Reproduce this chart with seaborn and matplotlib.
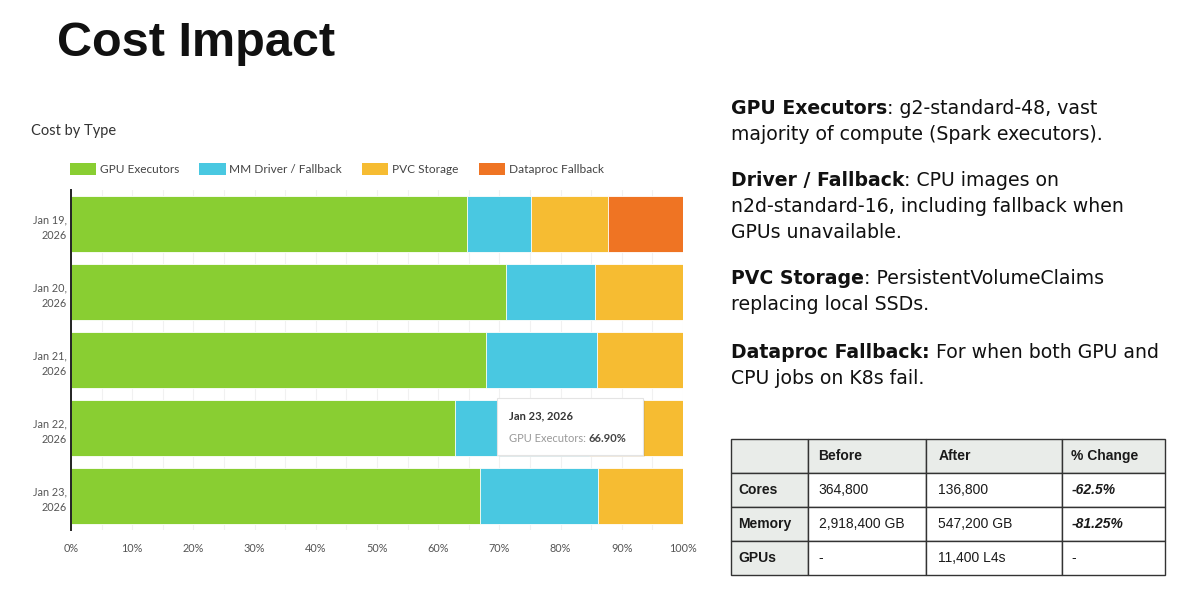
import numpy as np
import pandas as pd
import matplotlib
matplotlib.use("Agg")
import matplotlib.pyplot as plt
from matplotlib.patches import Rectangle
import seaborn as sns

# ===================== data =====================
dates = ["Jan 19,\n2026", "Jan 20,\n2026", "Jan 21,\n2026", "Jan 22,\n2026", "Jan 23,\n2026"]
series_names = ["GPU Executors", "MM Driver / Fallback", "PVC Storage", "Dataproc Fallback"]
gpu_exec = [64.7, 71.1, 67.8, 62.8, 66.9]
mm_driver = [10.4, 14.5, 18.1, 21.8, 19.2]
pvc_storage = [12.7, 14.4, 14.1, 15.4, 13.9]
dataproc = [12.2, 0.0, 0.0, 0.0, 0.0]
x_ticks = list(range(0, 101, 10))

notes = [
    [("GPU Executors", ": g2-standard-48, vast"), ("", "majority of compute (Spark executors).")],
    [("Driver / Fallback", ": CPU images on"), ("", "n2d-standard-16, including fallback when"),
     ("", "GPUs unavailable.")],
    [("PVC Storage", ": PersistentVolumeClaims"), ("", "replacing local SSDs.")],
    [("Dataproc Fallback:", " For when both GPU and"), ("", "CPU jobs on K8s fail.")],
]

table_cols = ["", "Before", "After", "% Change"]
table_rows = [
    ["Cores", "364,800", "136,800", "-62.5%"],
    ["Memory", "2,918,400 GB", "547,200 GB", "-81.25%"],
    ["GPUs", "-", "11,400 L4s", "-"],
]

colors = ["#89ce32", "#49c8e1", "#f6bc32", "#ef7423"]

sns.set_style("white")
plt.rcParams["font.family"] = ["Lato", "DejaVu Sans"]

fig = plt.figure(figsize=(12, 6.02), dpi=100)

# title
fig.text(57 / 1200, 1 - 44 / 602, "Cost Impact", fontsize=35, fontweight="bold",
         family="Liberation Sans", va="center", ha="left", color="#111111")

# ===================== stacked bar chart =====================
ax = fig.add_axes([71 / 1200, 1 - 530 / 602, 612 / 1200, 340 / 602])
df = pd.DataFrame({"date": dates, series_names[0]: gpu_exec, series_names[1]: mm_driver,
                   series_names[2]: pvc_storage, series_names[3]: dataproc})
cum = df[series_names].cumsum(axis=1)
# draw cumulative totals from the back so each segment sits on the previous one
for i in range(len(series_names) - 1, -1, -1):
    sns.barplot(x=cum[series_names[i]], y=df["date"], color=colors[i], orient="h",
                width=0.81, edgecolor="white", linewidth=0.6, errorbar=None,
                saturation=1, ax=ax)

ax.set_xlim(0, 100)
ax.set_xticks(x_ticks)
ax.set_xticklabels([f"{v}%" for v in x_ticks])
ax.set_xticks(np.arange(0, 101, 5), minor=True)
ax.grid(axis="x", which="both", color="#f1f1f1", lw=0.8)
ax.set_axisbelow(True)
ax.set_xlabel("")
ax.set_ylabel("")
for s in ["top", "right", "bottom"]:
    ax.spines[s].set_visible(False)
ax.spines["left"].set_color("#222222")
ax.spines["left"].set_linewidth(1.4)
ax.tick_params(axis="both", which="both", length=0, labelsize=7.8, colors="#555555")
ax.tick_params(axis="x", pad=9)
ax.tick_params(axis="y", pad=3)
for lab in ax.get_yticklabels():
    lab.set_horizontalalignment("right")
    lab.set_multialignment("right")
    lab.set_linespacing(1.6)

# tooltip
ax.add_patch(Rectangle((0.699, 0.215), 0.239, 0.167, transform=ax.transAxes,
                       facecolor="#000000", alpha=0.06, edgecolor="none", zorder=9))
ax.add_patch(Rectangle((0.696, 0.221), 0.239, 0.167, transform=ax.transAxes,
                       facecolor="white", edgecolor="#e4e4e4", lw=0.8, zorder=10))
ax.text(0.716, 0.335, dates[4].replace("\n", " "), transform=ax.transAxes, fontsize=8,
        fontweight="bold", color="#333333", va="center", zorder=11)
t1 = ax.text(0.716, 0.268, "GPU Executors: ", transform=ax.transAxes, fontsize=8,
             color="#999999", va="center", zorder=11)
ax.annotate(f"{gpu_exec[4]:.2f}%", xycoords=t1, xy=(1, 0.5), va="center", fontsize=8,
            fontweight="bold", color="#444444", zorder=11)

# chart title + legend
fig.text(31 / 1200, 1 - 131 / 602, "Cost by Type", fontsize=10.5, color="#333333",
         va="center", ha="left")
handles = [Rectangle((0, 0), 1, 1, facecolor=c, edgecolor="none") for c in colors]
fig.legend(handles, series_names, loc="center left", bbox_to_anchor=(59 / 1200, 1 - 169 / 602),
           ncol=4, frameon=False, fontsize=8.6, handlelength=2.2, handleheight=1.1,
           handletextpad=0.3, columnspacing=1.7, labelcolor="#444444")

# ===================== right-hand notes =====================
line_y = [[108, 134], [181, 207, 233], [279, 305], [352, 378]]
for para, ys in zip(notes, line_y):
    for (bold, rest), y in zip(para, ys):
        if bold:
            tb = fig.text(731 / 1200, 1 - y / 602, bold, fontsize=13.6, fontweight="bold",
                          family="DejaVu Sans", va="center", ha="left", color="#111111")
            plt.annotate(rest, xycoords=tb, xy=(1, 0), va="bottom", ha="left", fontsize=13.6,
                         family="DejaVu Sans", color="#111111", annotation_clip=False)
        else:
            fig.text(731 / 1200, 1 - y / 602, rest, fontsize=13.6, family="DejaVu Sans",
                     va="center", ha="left", color="#111111")

# ===================== table =====================
tax = fig.add_axes([731 / 1200, 1 - 575 / 602, 434 / 1200, 136 / 602])
tax.axis("off")
col_w = [77 / 434, 118 / 434, 136 / 434, 103 / 434]
tbl = tax.table(cellText=table_rows, colLabels=table_cols, cellLoc="left", colLoc="left",
                colWidths=col_w, bbox=[0, 0, 1, 1])
tbl.auto_set_font_size(False)
for (r, c), cell in tbl.get_celld().items():
    cell.set_edgecolor("#333333")
    cell.set_linewidth(1.0)
    cell.PAD = 0.09
    txt = cell.get_text()
    txt.set_fontsize(10)
    txt.set_family("Liberation Sans")
    txt.set_color("#1a1a1a")
    if r == 0 or c == 0:
        cell.set_facecolor("#e9ece9")
        txt.set_fontweight("bold")
    else:
        cell.set_facecolor("white")
    if r > 0 and c == 3 and txt.get_text() != "-":
        txt.set_fontweight("bold")
        txt.set_fontstyle("italic")

fig.savefig("out.png", dpi=100, facecolor="white")
